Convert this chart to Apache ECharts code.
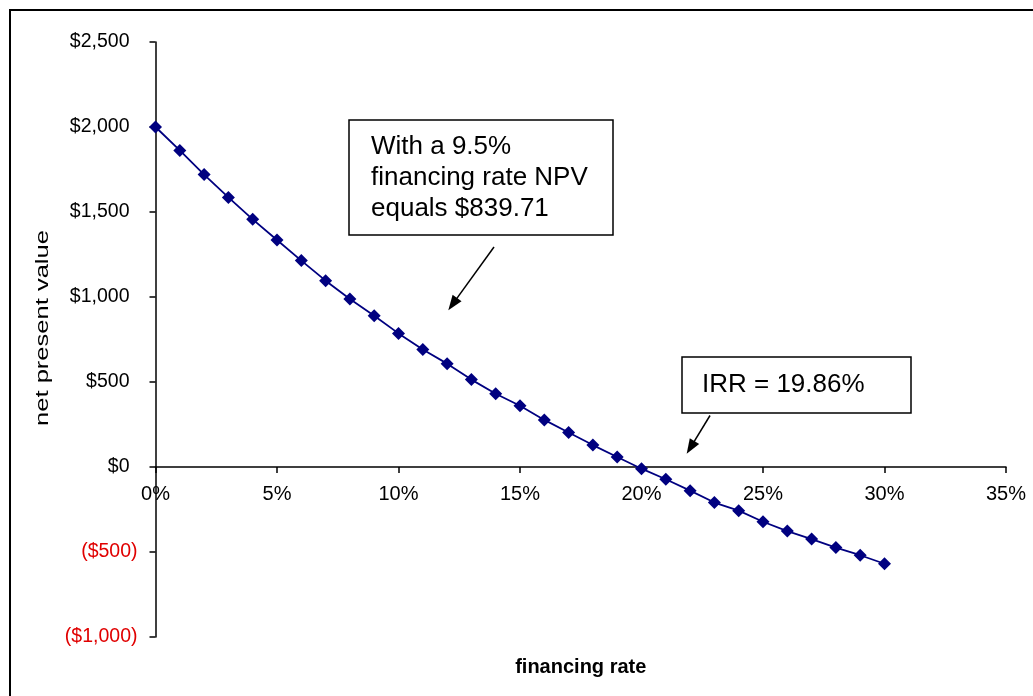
<!DOCTYPE html>
<html>
<head>
<meta charset="utf-8">
<script src="https://cdn.jsdelivr.net/npm/echarts@6/dist/echarts.min.js"></script>
<style>
    html, body { margin: 0; padding: 0; background: #fff; }
    #main { width: 1033px; height: 696px; }
</style>
</head>
<body>
<div id="main"></div>
<script>
    // financing rate in %, NPV in $
    var rates = [0, 1, 2, 3, 4, 5, 6, 7, 8, 9, 10, 11, 12, 13, 14, 15, 16, 17, 18, 19, 20, 21, 22, 23, 24, 25, 26, 27, 28, 29, 30];
    var npv = [2000, 1862, 1720, 1586, 1457, 1335, 1214, 1096, 988, 890, 786, 691, 608, 514, 431, 360, 277, 203, 129, 59, -10, -72, -139, -209, -257, -322, -377, -424, -474, -519, -569];
    var yTicks = [-1000, -500, 0, 500, 1000, 1500, 2000, 2500];
    var xTicks = [0, 5, 10, 15, 20, 25, 30, 35];

    var noteNpv = 'With a 9.5%\nfinancing rate NPV\nequals $839.71';
    var noteIrr = 'IRR = 19.86%';
    // arrows in data coords [rate, npv]
    var arrowNpv = [[13.93, 1294], [12.23, 958]];
    var arrowIrr = [[22.82, 303], [22.02, 115]];

    var FONT = '"Liberation Sans", Arial, sans-serif';
    var GRID_TOP = 42, GRID_BOTTOM = 59, H = 696;

    function money(v) {
        var s = '$' + Math.abs(v).toString().replace(/\B(?=(\d{3})+(?!\d))/g, ',');
        if (v < 0) return '{neg|(' + s + ')}';
        return '{pos|' + s + '}';
    }

    // x axis sits on the $0 line: lift it from the grid bottom
    var yMin = yTicks[0], yMax = yTicks[yTicks.length - 1];
    var plotH = H - GRID_TOP - GRID_BOTTOM;
    var zeroLift = plotH * (0 - yMin) / (yMax - yMin);

    var my_chart = echarts.init(document.getElementById('main'));
    var points = rates.map(function (r, i) { return [r, npv[i]]; });

    var option = {
        backgroundColor: '#fff',
        animation: false,
        textStyle: { fontFamily: FONT },
        grid: { left: 155.5, right: 27, top: GRID_TOP, bottom: GRID_BOTTOM, containLabel: false, outerBoundsMode: 'none' },
        xAxis: {
            type: 'value',
            min: xTicks[0],
            max: xTicks[xTicks.length - 1],
            interval: 5,
            offset: -zeroLift,
            axisLine: { onZero: false, lineStyle: { color: '#000', width: 1.5 } },
            axisTick: { show: true, inside: false, length: 6, lineStyle: { color: '#000', width: 1.5 } },
            splitLine: { show: false },
            axisLabel: { formatter: '{value}%', color: '#000', fontSize: 20, margin: 17, fontFamily: FONT },
            name: 'financing rate',
            nameLocation: 'middle',
            nameGap: 190,
            nameTextStyle: { fontSize: 20, fontWeight: 'bold', color: '#000', fontFamily: FONT }
        },
        yAxis: {
            type: 'value',
            min: yMin,
            max: yMax,
            interval: 500,
            axisLine: { show: true, onZero: false, lineStyle: { color: '#000', width: 1.5 } },
            axisTick: { show: true, inside: false, length: 6, lineStyle: { color: '#000', width: 1.5 } },
            splitLine: { show: false },
            axisLabel: {
                formatter: money,
                fontSize: 19.5,
                margin: 18,
                fontFamily: FONT,
                rich: {
                    pos: { color: '#000', fontSize: 19.5, padding: [0, 8, 0, 0], fontFamily: FONT },
                    neg: { color: '#e00000', fontSize: 19.5, fontFamily: FONT }
                }
            }
        },
        series: [{
            type: 'line',
            data: points,
            symbol: 'diamond',
            symbolSize: 13,
            lineStyle: { color: '#000080', width: 1.8 },
            itemStyle: { color: '#000080' },
            silent: true,
            markLine: {
                silent: true,
                symbol: ['none', 'triangle'],
                symbolSize: [11, 15],
                label: { show: false },
                lineStyle: { color: '#000', width: 1.5, type: 'solid' },
                data: [
                    [{ coord: arrowNpv[0] }, { coord: arrowNpv[1] }],
                    [{ coord: arrowIrr[0] }, { coord: arrowIrr[1] }]
                ]
            }
        }],
        graphic: [
            // outer frame
            { type: 'rect', shape: { x: 10, y: 10, width: 1100, height: 800 }, style: { fill: 'none', stroke: '#000', lineWidth: 2 }, silent: true },
            { type: 'rect', shape: { x: 349, y: 120, width: 264, height: 115 }, style: { fill: '#fff', stroke: '#000', lineWidth: 1.5 }, z: 10 },
            { type: 'text', x: 371, y: 131, style: { text: noteNpv, font: '26px ' + FONT, fill: '#000', lineHeight: 31 }, z: 11 },
            { type: 'rect', shape: { x: 682, y: 357, width: 229, height: 56 }, style: { fill: '#fff', stroke: '#000', lineWidth: 1.5 }, z: 10 },
            { type: 'text', x: 702, y: 372, style: { text: noteIrr, font: '26px ' + FONT, fill: '#000' }, z: 11 },
            // y axis title (stretched like the original)
            {
                type: 'text', x: 42.5, y: 328, rotation: Math.PI / 2, scaleX: 1.38,
                style: { text: 'net present value', font: '18.5px ' + FONT, fill: '#000', align: 'center', verticalAlign: 'middle' }
            }
        ]
    };

    my_chart.setOption(option);
</script>
</body>
</html>
